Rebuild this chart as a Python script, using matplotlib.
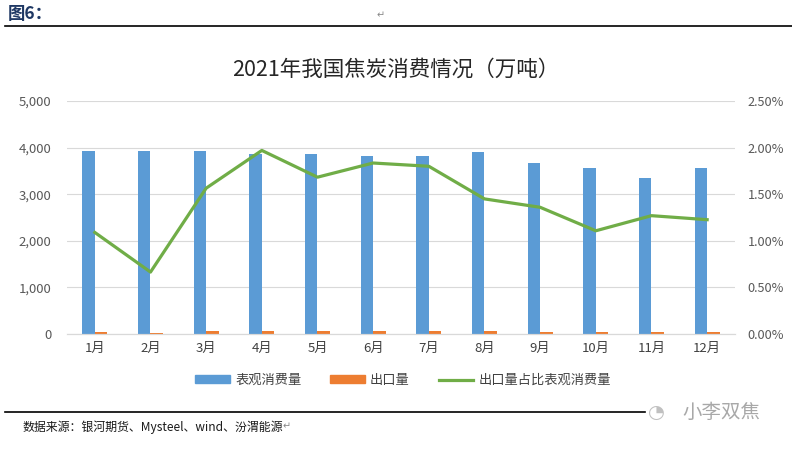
import numpy as np
import matplotlib.pyplot as plt
from matplotlib.lines import Line2D
from matplotlib.patches import Patch

plt.rcParams['font.family'] = ['Noto Sans CJK SC', 'DejaVu Sans']

months = ['1月', '2月', '3月', '4月', '5月', '6月', '7月', '8月', '9月', '10月', '11月', '12月']
consumption = [3930, 3930, 3930, 3860, 3860, 3815, 3815, 3900, 3660, 3570, 3355, 3555]
exports = [43, 26, 62, 76, 65, 70, 69, 57, 50, 40, 43, 44]
export_ratio = [1.09, 0.665, 1.565, 1.97, 1.683, 1.835, 1.80, 1.45, 1.36, 1.108, 1.27, 1.227]

blue = '#5B9BD5'
orange = '#ED7D31'
green = '#70AD47'
grey_text = '#595959'

fig = plt.figure(figsize=(7.92, 4.49), dpi=100)
ax = fig.add_axes([0.0846, 0.256, 0.8434, 0.519])
ax2 = ax.twinx()

x = np.arange(len(months))
w = 0.225
ax.bar(x - w / 2, consumption, w, color=blue, zorder=2)
ax.bar(x + w / 2, exports, w, color=orange, zorder=2)
ax2.plot(x, export_ratio, color=green, lw=2.3, zorder=3)

ax.set_xlim(-0.5, len(months) - 0.5)
ax.set_ylim(0, 5000)
ax.set_yticks(np.arange(0, 5001, 1000))
ax.set_yticklabels(['{:,}'.format(v) for v in range(0, 5001, 1000)])
ax2.set_ylim(0, 2.5)
ax2.set_yticks(np.arange(0, 2.51, 0.5))
ax2.set_yticklabels(['{:.2f}%'.format(v) for v in np.arange(0, 2.51, 0.5)])
ax.set_xticks(x)
ax.set_xticklabels(months)

ax.grid(axis='y', color='#D9D9D9', lw=0.8, zorder=0)
ax.set_axisbelow(True)
for a in (ax, ax2):
    for s in ['top', 'left', 'right']:
        a.spines[s].set_visible(False)
    a.spines['bottom'].set_color('#D9D9D9')
    a.tick_params(length=0, colors=grey_text, labelsize=9.5)
ax.tick_params(axis='y', pad=11)
ax2.tick_params(axis='y', pad=9, labelsize=9.2)
ax.tick_params(axis='x', pad=6, labelcolor='#404040')

fig.text(0.5, 0.845, '2021年我国焦炭消费情况（万吨）', ha='center', va='center',
         fontsize=15.5, color='#262626', fontweight='light')

handles = [Patch(color=blue), Patch(color=orange), Line2D([0], [0], color=green, lw=2.3)]
labels = ['表观消费量', '出口量', '出口量占比表观消费量']
fig.legend(handles, labels, loc='center', bbox_to_anchor=(0.509, 0.153), ncol=3,
           frameon=False, fontsize=9.5, handlelength=2.6, handleheight=0.5,
           columnspacing=2.2, handletextpad=0.4, labelcolor='#404040')

# document header / footer around the chart
fig.text(0.010, 0.968, '图6：', fontsize=12.5, fontweight='bold', color='#1F3864',
         va='center', ha='left')
fig.text(0.475, 0.965, '↵', fontsize=7, color='#888888', va='center', family='DejaVu Sans')
fig.add_artist(Line2D([0.006, 1.0], [0.943, 0.943], color='black', lw=1.2))
fig.add_artist(Line2D([0.006, 0.815], [0.082, 0.082], color='black', lw=1.2))
fig.text(0.028, 0.048, '数据来源：银河期货、Mysteel、wind、汾渭能源', fontsize=8.6,
         color='#1a1a1a', va='center', ha='left')
fig.text(0.357, 0.05, '↵', fontsize=7, color='#888888', va='center', family='DejaVu Sans')
fig.text(0.818, 0.082, '◔', fontsize=14, color='#C0C0C0', va='center', ha='left',
         family='DejaVu Sans')
fig.text(0.862, 0.082, '小李双焦', fontsize=14, color='#A8A8A8', va='center', ha='left',
         fontweight='light')

fig.savefig('out.png', dpi=100)
